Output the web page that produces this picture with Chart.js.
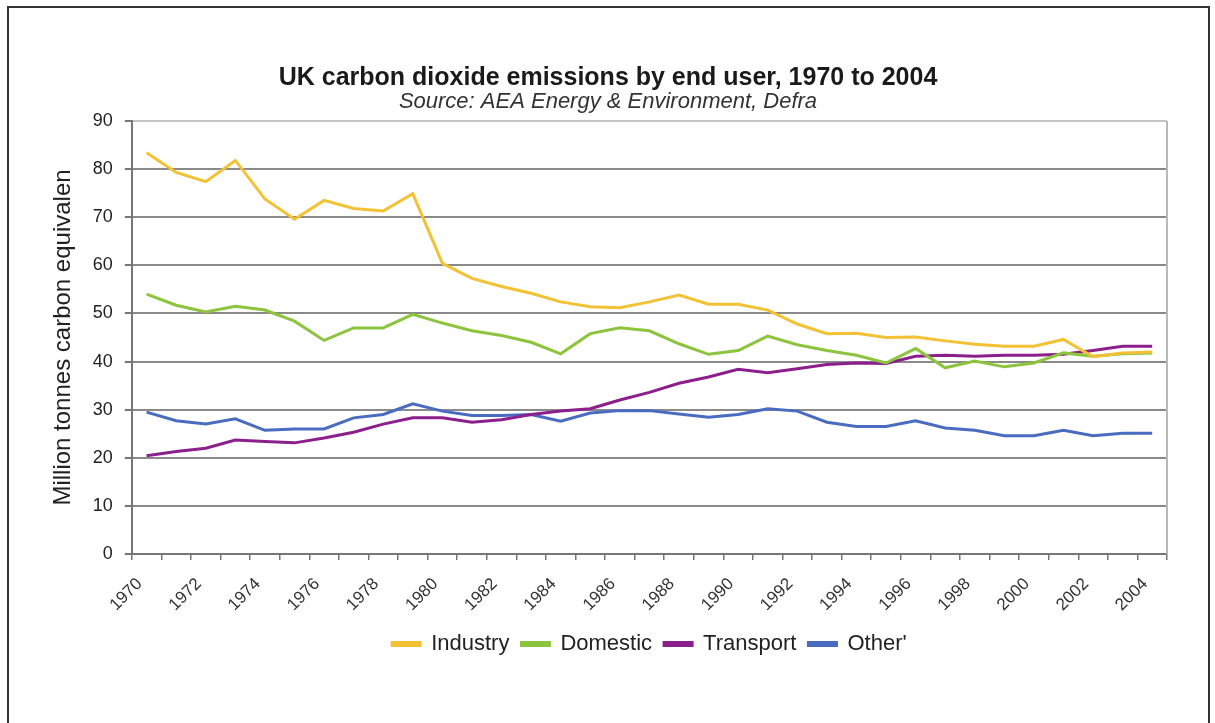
<!DOCTYPE html>
<html>
<head>
<meta charset="utf-8">
<script src="https://cdn.jsdelivr.net/npm/chart.js@4/dist/chart.umd.min.js"></script>
<style>
  html, body { margin: 0; padding: 0; background: #fff; }
  #frame {
    position: absolute; left: 7px; top: 6px; width: 1203px; height: 740px;
    border: 2px solid #333; border-bottom: none; box-sizing: border-box;
  }
  #wrap { position: absolute; left: 0; top: 0; width: 1215px; height: 723px; }
</style>
</head>
<body>
<div id="frame"></div>
<div id="wrap"><canvas id="myChart"></canvas></div>
<script>
const years = []
for (let y = 1970; y <= 2004; y++) years.push(String(y))

const industry = [83.4, 79.3, 77.4, 81.8, 73.8, 69.6, 73.5, 71.8, 71.3, 74.9,
  60.4, 57.3, 55.6, 54.2, 52.4, 51.4, 51.2, 52.4, 53.8, 51.9,
  51.9, 50.7, 47.8, 45.8, 45.9, 45.0, 45.1, 44.3, 43.6, 43.2,
  43.2, 44.6, 41.0, 41.8, 42.0]
const domestic = [54.0, 51.7, 50.3, 51.5, 50.7, 48.4, 44.4, 47.0, 47.0, 49.8,
  48.0, 46.4, 45.4, 44.0, 41.6, 45.8, 47.0, 46.4, 43.7, 41.5,
  42.3, 45.3, 43.5, 42.3, 41.3, 39.7, 42.7, 38.7, 40.1, 38.9,
  39.7, 41.8, 41.1, 41.6, 41.8]
const transport = [20.4, 21.3, 22.0, 23.7, 23.4, 23.1, 24.1, 25.3, 27.0, 28.3,
  28.3, 27.4, 27.9, 29.0, 29.7, 30.2, 32.0, 33.6, 35.5, 36.8,
  38.4, 37.7, 38.5, 39.4, 39.7, 39.6, 41.1, 41.3, 41.1, 41.3,
  41.3, 41.5, 42.3, 43.2, 43.2]
const other = [29.5, 27.7, 27.0, 28.1, 25.7, 26.0, 26.0, 28.3, 29.0, 31.2,
  29.7, 28.8, 28.8, 29.0, 27.6, 29.3, 29.8, 29.8, 29.1, 28.4,
  29.0, 30.2, 29.7, 27.4, 26.5, 26.5, 27.7, 26.2, 25.7, 24.6,
  24.6, 25.7, 24.6, 25.1, 25.1]

const seriesNames = ['Industry', 'Domestic', 'Transport', 'Other\'']
const seriesColors = ['#f3c234', '#8cc43e', '#8b1f8c', '#4a6cc0']
const seriesData = [industry, domestic, transport, other]

const font = 'Liberation Sans, Arial, sans-serif'

// right edge of the plot + legend centred under the plot, excel style
const plotPlugin = {
  id: 'plotBorder',
  afterLayout(chart) {
    const lg = chart.legend
    if (lg) {
      lg.left = chart.chartArea.left
      lg.right = chart.chartArea.right
    }
  },
  beforeDatasetsDraw(chart) {
    const a = chart.chartArea
    const c = chart.ctx
    c.save()
    c.strokeStyle = '#b8b8b8'
    c.lineWidth = 2
    c.beginPath()
    c.moveTo(a.right, a.top)
    c.lineTo(a.right, a.bottom)
    c.stroke()
    c.restore()
  }
}

const ctx = document.getElementById('myChart').getContext('2d')
const chart = new Chart(ctx, {
  type: 'line',
  data: {
    labels: years,
    datasets: seriesData.map((d, i) => ({
      label: seriesNames[i],
      data: d,
      borderColor: seriesColors[i],
      backgroundColor: seriesColors[i],
      borderWidth: 3,
      pointRadius: 0,
      tension: 0
    }))
  },
  options: {
    responsive: true,
    maintainAspectRatio: false,
    animation: false,
    layout: { padding: { left: 49, right: 48, top: 66, bottom: 58 } },
    plugins: {
      title: {
        display: true,
        text: 'UK carbon dioxide emissions by end user, 1970 to 2004',
        color: '#1a1a1a',
        font: { family: font, size: 25, weight: 'bold', lineHeight: 1 },
        padding: { top: 0, bottom: 0 }
      },
      subtitle: {
        display: true,
        text: 'Source: AEA Energy & Environment, Defra',
        color: '#333',
        font: { family: font, size: 22, style: 'italic', lineHeight: 1 },
        padding: { top: 0, bottom: 8 }
      },
      legend: {
        position: 'bottom',
        labels: {
          color: '#222',
          font: { family: font, size: 22 },
          boxWidth: 28,
          boxHeight: 3,
          padding: 12
        }
      },
      tooltip: { enabled: false }
    },
    scales: {
      x: {
        offset: true,
        grid: { offset: true, drawOnChartArea: false, color: '#777', lineWidth: 1.5, tickLength: 6 },
        border: { color: '#777', width: 2 },
        ticks: {
          autoSkip: false,
          maxRotation: 45,
          minRotation: 45,
          color: '#333',
          labelOffset: -7,
          padding: 14,
          font: { family: font, size: 17 },
          callback: (v, i) => (i % 2 === 0 ? years[i] : '')
        },
        afterFit: scale => { scale.height = 67 }
      },
      y: {
        min: 0,
        max: 90,
        ticks: {
          stepSize: 10,
          color: '#222',
          padding: 12,
          font: { family: font, size: 18 }
        },
        grid: {
          color: c => (c.tick && c.tick.value === 90 ? '#c4c4c4' : '#8a8a8a'),
          lineWidth: 2,
          tickLength: 7,
          tickColor: '#777'
        },
        border: { color: '#777', width: 2 },
        title: {
          display: true,
          text: 'Million tonnes carbon equivalen',
          color: '#222',
          font: { family: font, size: 24 },
          padding: { top: 0, bottom: 3 }
        }
      }
    }
  },
  plugins: [plotPlugin]
})
</script>
</body>
</html>
